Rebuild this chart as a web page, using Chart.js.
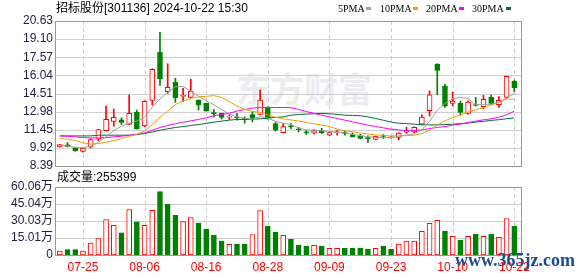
<!DOCTYPE html>
<html><head><meta charset="utf-8">
<script src="https://cdn.jsdelivr.net/npm/chart.js@4"></script>
<style>
html,body{margin:0;padding:0;background:#fff;}
#wrap{position:relative;width:578px;height:276px;overflow:hidden;font-family:"Liberation Sans","Noto Sans CJK SC",sans-serif;}
canvas{position:absolute;left:0;}
.t{position:absolute;white-space:nowrap;line-height:14px;}
.lg{position:absolute;white-space:nowrap;font-family:"Liberation Serif",serif;font-size:10px;line-height:12px;top:3px;color:#000;}
.sq{position:absolute;top:7px;width:5px;height:3px;}
</style></head><body>
<div id="wrap">
  <div class="t" style="left:236px;top:68px;font-size:34px;line-height:40px;font-weight:bold;color:#ececf0;font-family:'Noto Sans CJK SC';">东方财富</div>
  <canvas id="pc" width="578" height="182" style="top:0"></canvas>
  <canvas id="vc" width="578" height="106" style="top:170px"></canvas>
  <div class="t" style="left:56px;top:1px;font-size:12px;color:#000;">招标股份[301136] 2024-10-22 15:30</div>
  <div class="lg" style="left:338px">5PMA</div><div class="sq" style="left:366px;background:#a0a0a0"></div>
  <div class="lg" style="left:380px">10PMA</div><div class="sq" style="left:413px;background:#f0a000"></div>
  <div class="lg" style="left:426px">20PMA</div><div class="sq" style="left:459px;background:#ff00ff"></div>
  <div class="lg" style="left:472px">30PMA</div><div class="sq" style="left:506px;background:#007035"></div>
  <div class="t" style="left:57px;top:170px;font-size:12px;color:#000;">成交量:255399</div>
  <div class="t" style="left:455px;top:251px;font-size:18px;line-height:19px;font-weight:bold;font-family:'Liberation Serif',serif;color:#1e4b8c;">www.365jz.com</div>
</div>
<script>
const dates = ['07-22','07-23','07-24','07-25','07-26','07-29','07-30','07-31','08-01','08-02',
'08-05','08-06','08-07','08-08','08-09','08-12','08-13','08-14','08-15','08-16',
'08-19','08-20','08-21','08-22','08-23','08-26','08-27','08-28','08-29','08-30',
'09-02','09-03','09-04','09-05','09-06','09-09','09-10','09-11','09-12','09-13',
'09-18','09-19','09-20','09-23','09-24','09-25','09-26','09-27','09-30','10-08',
'10-09','10-10','10-11','10-14','10-15','10-16','10-17','10-18','10-21','10-22'];
const opens = [10.00,10.17,9.92,9.62,9.97,10.66,11.38,12.15,12.29,11.90,
12.91,11.78,13.93,17.99,14.66,15.48,14.27,14.18,13.95,13.67,
12.85,12.83,12.52,12.49,12.35,12.74,12.74,13.25,11.98,11.21,
11.77,11.49,11.23,11.16,11.36,10.99,11.20,11.18,11.05,10.90,
10.73,10.63,10.91,10.76,10.81,11.25,11.26,11.93,13.06,17.00,
15.14,13.67,13.67,12.83,13.55,13.39,14.18,13.56,14.18,15.54];
const highs = [10.22,10.37,9.93,9.92,10.70,11.50,13.45,13.20,12.46,14.38,
13.11,13.90,16.60,19.67,17.02,15.79,14.94,15.71,13.97,13.70,
13.16,12.85,12.74,12.83,12.54,12.97,14.80,13.39,12.06,11.98,
11.98,11.64,11.41,11.47,11.58,11.24,11.41,11.33,11.19,11.07,
10.93,10.92,11.05,10.88,11.20,11.66,11.70,12.70,14.73,17.02,
15.31,14.63,13.87,13.90,14.18,14.35,14.38,14.24,15.98,15.65];
const lows = [9.98,10.00,9.64,9.56,9.92,10.52,11.35,11.75,11.90,11.88,
11.50,11.70,13.53,15.20,14.52,13.76,13.81,14.15,13.11,13.00,
12.54,12.35,12.32,12.26,12.00,12.12,12.72,12.35,11.33,11.20,
11.55,11.27,11.04,11.07,11.13,10.95,10.99,10.99,10.84,10.68,
10.37,10.60,10.71,10.74,10.60,11.15,11.20,11.85,12.61,14.40,
13.33,13.47,12.69,12.77,13.45,13.22,13.56,13.33,14.10,14.66];
const closes = [10.20,10.02,9.66,9.90,10.62,11.47,12.32,12.49,12.07,12.83,
11.53,13.84,16.56,15.76,15.03,14.15,14.31,14.72,13.53,13.05,
12.81,12.49,12.57,12.44,12.30,12.40,13.95,12.37,11.41,11.72,
11.70,11.45,11.19,11.36,11.21,11.22,11.25,11.13,10.86,10.71,
10.70,10.90,10.88,10.86,11.17,11.30,11.66,12.53,14.40,16.46,
13.45,13.87,12.91,13.79,13.50,14.01,13.67,13.93,15.96,15.00];
// volume in 万 (10k shares)
const volumes = [3.5,4.7,4.7,3.5,10.5,14.6,31.3,26.3,19.6,40.1,
29.2,26.3,39.5,56.1,45.0,35.1,29.5,33.0,28.1,22.8,
17.5,12.3,9.4,9.4,9.4,18.1,39.2,25.4,20.2,17.3,
13.8,8.8,7.9,8.5,7.9,5.9,5.9,6.1,6.1,6.1,
5.3,5.9,7.9,5.3,9.6,12.3,12.3,21.0,28.0,30.7,
21.0,16.4,13.2,16.4,18.4,16.4,18.4,15.5,32.2,25.54];
const ma5 = [10.14,10.06,9.97,9.94,10.07,10.38,10.85,11.38,11.75,12.00,
12.18,12.52,13.35,14.05,14.60,15.08,15.10,14.72,14.28,13.90,
13.55,13.15,12.78,12.55,12.42,12.36,12.55,12.45,12.15,12.00,
11.90,11.60,11.43,11.42,11.37,11.31,11.26,11.18,11.06,10.96,
10.86,10.81,10.79,10.80,10.90,11.00,11.11,11.45,12.15,13.10,
13.68,14.07,14.18,14.08,13.56,13.59,13.60,13.75,14.14,14.50];
const ma10 = [10.71,10.65,10.54,10.35,10.24,10.29,10.40,10.53,10.70,10.90,
11.05,11.35,11.90,12.50,13.00,13.58,13.86,14.10,14.23,14.27,
14.33,14.18,13.82,13.45,13.17,13.00,12.92,12.70,12.50,12.38,
12.28,12.19,12.06,11.95,11.84,11.73,11.50,11.36,11.27,11.18,
11.09,11.02,10.97,10.93,10.93,10.95,10.99,11.13,11.42,11.85,
12.20,12.48,12.70,12.95,13.12,13.33,13.55,13.75,14.05,14.01];
const ma20 = [10.93,10.90,10.85,10.79,10.76,10.76,10.79,10.85,10.90,10.99,
11.07,11.19,11.41,11.64,11.81,11.95,12.09,12.20,12.32,12.46,
12.63,12.74,12.85,13.02,13.16,13.28,13.33,13.33,13.33,13.33,
13.31,13.16,12.99,12.83,12.68,12.54,12.40,12.26,12.12,11.98,
11.84,11.72,11.61,11.50,11.44,11.36,11.38,11.44,11.55,11.64,
11.72,11.84,11.92,12.06,12.18,12.29,12.37,12.51,12.71,13.02];
const ma30 = [10.93,10.93,10.93,10.93,10.93,10.99,10.99,10.99,10.99,10.99,
11.05,11.13,11.27,11.41,11.53,11.64,11.72,11.81,11.89,11.98,
12.09,12.18,12.26,12.32,12.32,12.35,12.37,12.43,12.49,12.54,
12.68,12.74,12.77,12.80,12.83,12.80,12.74,12.68,12.66,12.63,
12.54,12.40,12.25,12.10,12.00,11.97,11.92,11.88,11.86,11.86,
11.88,11.92,11.97,12.02,12.10,12.16,12.24,12.30,12.38,12.45];
const priceTicks = [8.39,9.92,11.45,12.98,14.51,16.04,17.57,19.10,20.63];
const priceTickLabels = ['8.39','9.92','11.45','12.98','14.51','16.04','17.57','19.10','20.63'];
const volTicks = [0,15.01,30.03,45.04,60.06];
const volTickLabels = ['0','15.01万','30.03万','45.04万','60.06万'];
const dateTickIdx = [3,11,19,27,35,43,51,59];

const UP = '#ff0000', DOWN = '#008000';
const FONT = '"Liberation Sans","Noto Sans CJK SC",sans-serif';
const idx = dates.map((d,i)=>i);
const candleUp = idx.map(i => closes[i] >= opens[i]);
const volUp = idx.map(i => i === 0 ? closes[0] >= opens[0] : closes[i] >= closes[i-1]);

const framePlugin = {
  id: 'frame',
  beforeDatasetsDraw(chart, args, opts) {
    const {ctx, chartArea: a, scales} = chart;
    const x = scales.x, y = scales.y;
    ctx.save();
    ctx.lineWidth = 1;
    ctx.strokeStyle = '#cfcfcf';
    opts.yTicks.forEach(v => {
      const py = Math.round(y.getPixelForValue(v)) + 0.5;
      ctx.beginPath(); ctx.moveTo(a.left, py); ctx.lineTo(a.right, py); ctx.stroke();
    });
    ctx.setLineDash([4, 3]);
    dateTickIdx.forEach(i => {
      const px = Math.round(x.getPixelForValue(i)) + 0.5;
      ctx.beginPath(); ctx.moveTo(px, a.top); ctx.lineTo(px, a.bottom); ctx.stroke();
    });
    ctx.setLineDash([]);
    ctx.strokeStyle = '#999999';
    ctx.strokeRect(Math.round(a.left) - 0.5, Math.round(a.top) + 0.5,
                   Math.round(a.right - a.left), Math.round(a.bottom - a.top));
    ctx.restore();
  }
};

const xScale = (show) => ({
  type: 'linear', min: -0.5, max: 60, display: show, offset: false,
  afterBuildTicks: s => { s.ticks = dateTickIdx.map(v => ({value: v})); },
  afterFit: s => { if (show) s.height = 21; },
  grid: {display: false, drawTicks: false, offset: false},
  border: {display: false},
  ticks: {color: UP, padding: 5, maxRotation: 0, autoSkip: false,
          font: {size: 12, family: FONT}, callback: v => dates[v]}
});

const yTicksOpt = (labels) => ({
  padding: 3, color: '#1f1f3f', autoSkip: false, font: {size: 12, family: FONT},
  callback: (v, i) => labels[i]
});

const lineDs = (data, color) => ({
  type: 'line', data: idx.map(i => ({x: i, y: data[i]})), borderColor: color,
  borderWidth: 1, pointRadius: 0, tension: 0, order: 0
});

new Chart(document.getElementById('pc'), {
  data: {
    datasets: [
      lineDs(ma5, '#a0a0a0'),
      lineDs(ma10, '#f0a000'),
      lineDs(ma20, '#ff00ff'),
      lineDs(ma30, '#007035'),
      {type: 'bar', data: idx.map(i => ({x: i, y: [opens[i], closes[i]]})),
       backgroundColor: idx.map(i => candleUp[i] ? '#ffffff' : DOWN),
       borderColor: idx.map(i => candleUp[i] ? UP : DOWN),
       borderWidth: 1, borderSkipped: false, barThickness: 5, minBarLength: 1,
       grouped: false, order: 1},
      {type: 'bar', data: idx.map(i => ({x: i, y: [lows[i], highs[i]]})),
       backgroundColor: idx.map(i => candleUp[i] ? UP : DOWN),
       borderWidth: 0, barThickness: 1, grouped: false, order: 2}
    ]
  },
  options: {
    responsive: false, animation: false, devicePixelRatio: 1,
    layout: {padding: {left: 0, right: 56, top: 21, bottom: 16}},
    plugins: {legend: {display: false}, tooltip: {enabled: false}, frame: {yTicks: priceTicks}},
    scales: {
      x: xScale(false),
      y: {min: 8.39, max: 20.63,
          afterBuildTicks: s => { s.ticks = priceTicks.map(v => ({value: v})); },
          afterFit: s => { s.width = 56; },
          grid: {display: false, drawTicks: false}, border: {display: false},
          ticks: yTicksOpt(priceTickLabels)}
    }
  },
  plugins: [framePlugin]
});

new Chart(document.getElementById('vc'), {
  data: {
    datasets: [
      {type: 'bar', data: idx.map(i => ({x: i, y: volumes[i]})),
       backgroundColor: idx.map(i => volUp[i] ? '#ffffff' : DOWN),
       borderColor: idx.map(i => volUp[i] ? UP : DOWN),
       borderWidth: 1, borderSkipped: false, barThickness: 5, grouped: false}
    ]
  },
  options: {
    responsive: false, animation: false, devicePixelRatio: 1,
    layout: {padding: {left: 0, right: 56, top: 17, bottom: 0}},
    plugins: {legend: {display: false}, tooltip: {enabled: false}, frame: {yTicks: volTicks}},
    scales: {
      x: xScale(true),
      y: {min: 0, max: 60.06,
          afterBuildTicks: s => { s.ticks = volTicks.map(v => ({value: v})); },
          afterFit: s => { s.width = 56; },
          grid: {display: false, drawTicks: false}, border: {display: false},
          ticks: yTicksOpt(volTickLabels)}
    }
  },
  plugins: [framePlugin]
});
</script>
</body></html>
